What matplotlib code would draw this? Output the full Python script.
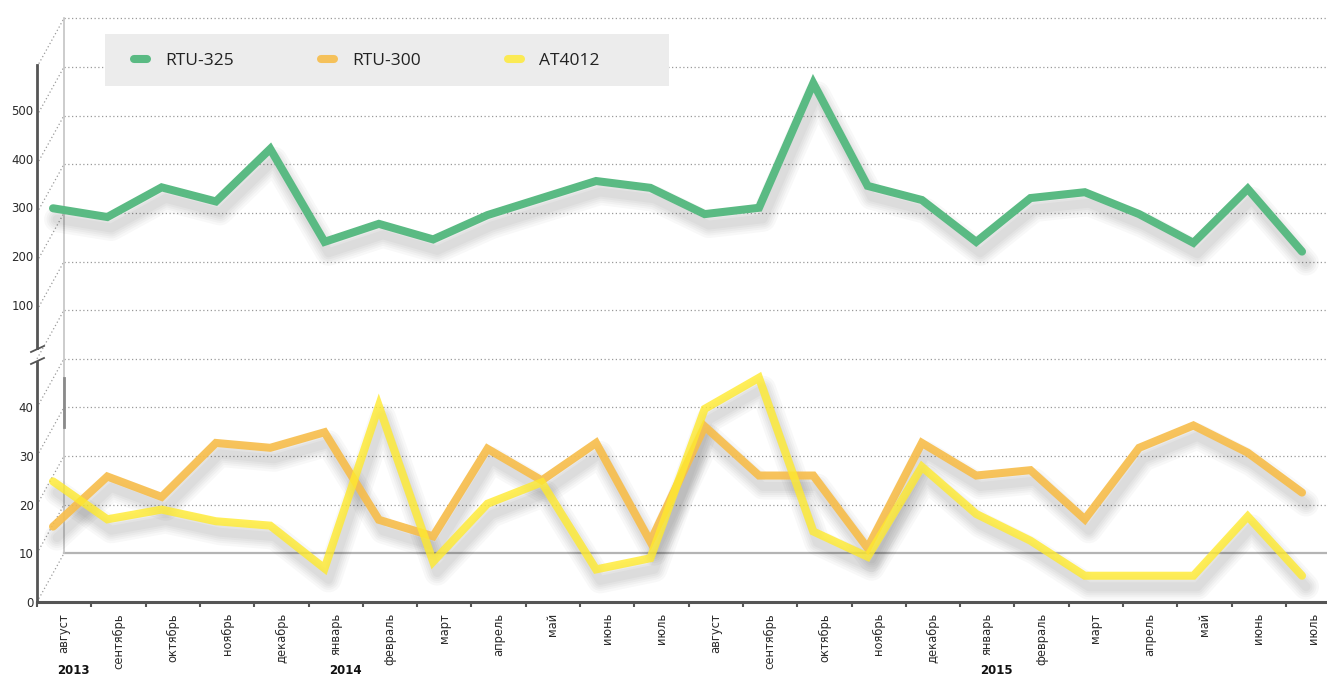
import matplotlib
matplotlib.use("Agg")
import matplotlib.pyplot as plt
import numpy as np
from matplotlib.lines import Line2D
from matplotlib.patches import Rectangle
from matplotlib.transforms import blended_transform_factory, offset_copy

# --- data -------------------------------------------------------------------
months = ["август", "сентябрь", "октябрь", "ноябрь", "декабрь", "январь",
          "февраль", "март", "апрель", "май", "июнь", "июль",
          "август", "сентябрь", "октябрь", "ноябрь", "декабрь", "январь",
          "февраль", "март", "апрель", "май", "июнь", "июль"]
years = ["2013", "2014", "2015"]
year_start = [0, 5, 17]  # index of the first month of each year

rtu_325 = [298, 280, 341, 312, 420, 229, 266, 234, 284, 319, 354, 340,
           286, 299, 555, 344, 315, 229, 319, 331, 286, 227, 338, 209]
rtu_300 = [15.5, 25.8, 21.6, 32.7, 31.7, 34.9, 16.9, 13.5, 31.5, 25.0, 32.7, 12.4,
           36.1, 26.0, 26.0, 11.1, 32.7, 26.0, 27.1, 17.0, 31.7, 36.3, 30.7, 22.5]
at4012 = [24.8, 17.0, 19.0, 16.6, 15.7, 6.9, 40.3, 8.3, 20.2, 24.6, 6.7, 9.0,
          39.7, 46.1, 14.5, 9.3, 27.8, 18.1, 12.6, 5.4, 5.4, 5.4, 17.6, 5.4]

upper_ticks = [100, 200, 300, 400, 500]
lower_ticks = [0, 10, 20, 30, 40]
wall_levels = np.arange(0, 120, 10)  # back-wall grid, in lower-panel units

GREEN, ORANGE, YELLOW = "#5aba83", "#f7bd4a", "#ffea2e"
AXIS_C = "#555555"

# --- layout (pixel boxes of a 1327x678 canvas) -------------------------------
W, H = 1327, 678
fig = plt.figure(figsize=(W / 100, H / 100), dpi=100)


def px_axes(left, top, right, bottom):
    return fig.add_axes([left / W, 1 - bottom / H, (right - left) / W, (bottom - top) / H])


ax_lo = px_axes(37, 362, W, 602)
ax_hi = px_axes(37, 65, W, 348)

XLIM = (-0.295, 23.46)
DEPTH_X, DEPTH_Y = 0.497, 10.0  # fake 3D depth, in lower-panel data units

for ax in (ax_lo, ax_hi):
    ax.set_facecolor("none")
    ax.set_xlim(*XLIM)
    for side in ("top", "right"):
        ax.spines[side].set_visible(False)
    ax.spines["left"].set_color(AXIS_C)
    ax.spines["left"].set_linewidth(2.0)
    ax.tick_params(axis="y", length=0, pad=2.5, labelsize=8.5, labelcolor="#2a2a2a")

ax_lo.set_ylim(0, 240 / 4.864)
ax_hi.set_ylim(10.9, 592.4)
ax_lo.set_yticks(lower_ticks)
ax_hi.set_yticks(upper_ticks)

ax_hi.spines["bottom"].set_visible(False)
ax_hi.set_xticks([])

# floor: boundary ticks + month labels in the middle of each bin
ax_lo.spines["bottom"].set_color(AXIS_C)
ax_lo.spines["bottom"].set_linewidth(2.2)
ax_lo.set_xticks(XLIM[0] + np.arange(len(months)))
ax_lo.set_xticklabels([])
ax_lo.set_xticks(XLIM[0] + 0.5 + np.arange(len(months)), minor=True)
ax_lo.set_xticklabels(months, minor=True, rotation=90, fontsize=8.3, color="#2a2a2a")
ax_lo.tick_params(axis="x", which="major", direction="out", length=3.6, width=1.5, color=AXIS_C)
ax_lo.tick_params(axis="x", which="minor", length=0, pad=8)

year_tr = blended_transform_factory(ax_lo.transData, fig.transFigure)
for label, start in zip(years, year_start):
    ax_lo.text(start + 0.08, 1 - 671 / H, label, transform=year_tr, ha="left", va="center",
               fontsize=8.5, fontweight="semibold", color="#111111")

# --- back wall, floor and depth diagonals ------------------------------------
dots = dict(ls=(0, (1, 2)), lw=0.9, color="#9a9a9a", clip_on=False, zorder=1)
x_back = XLIM[0] + DEPTH_X
for v in wall_levels:
    ax_lo.plot([XLIM[0], x_back], [v, v + DEPTH_Y], **dots)
    if v == 0:
        ax_lo.plot([x_back, XLIM[1]], [DEPTH_Y, DEPTH_Y], color="#b4b4b4", lw=1.6,
                   clip_on=False, zorder=1)
    else:
        ax_lo.plot([x_back, XLIM[1] + DEPTH_X], [v + DEPTH_Y] * 2, **dots)
ax_lo.plot([x_back, x_back], [DEPTH_Y, wall_levels[-1] + DEPTH_Y], color="#c4c4c4", lw=1.2,
           clip_on=False, zorder=1)
ax_lo.plot([x_back, x_back], [26 + DEPTH_Y, 36 + DEPTH_Y], color="#8a8a8a", lw=2,
           clip_on=False, zorder=1)

# axis break marks
for y0, y1 in ((364, 358), (352, 346)):
    fig.add_artist(Line2D([31 / W, 44 / W], [1 - y0 / H, 1 - y1 / H], color=AXIS_C, lw=1.3))

# --- series with soft drop shadows ------------------------------------------
x = np.arange(len(months))


def shadowed(ax, y, color, alpha):
    shadow_tr = offset_copy(ax.transData, fig, x=4, y=-11, units="dots")
    for lw in (26, 21, 17, 13, 9):
        ax.plot(x, y, color="black", alpha=0.028, lw=lw * 0.72, transform=shadow_tr,
                solid_capstyle="round", solid_joinstyle="round", clip_on=False, zorder=2)
    line, = ax.plot(x, y, color=color, alpha=alpha, lw=5.8, solid_capstyle="round",
                    solid_joinstyle="miter", clip_on=False, zorder=3)
    return line


l_325 = shadowed(ax_hi, rtu_325, GREEN, 1.0)
l_300 = shadowed(ax_lo, rtu_300, ORANGE, 0.9)
l_at = shadowed(ax_lo, at4012, YELLOW, 0.8)

# --- legend box --------------------------------------------------------------
fig.patches.append(Rectangle((105 / W, 1 - 86 / H), 564 / W, 52 / H, transform=fig.transFigure,
                             facecolor="#ececec", edgecolor="none", zorder=0))
fig.legend([l_325, l_300, l_at], ["RTU-325", "RTU-300", "AT4012"],
           loc="center left", bbox_to_anchor=(134 / W, 1 - 61 / H), bbox_transform=fig.transFigure,
           ncol=3, frameon=False, borderpad=0, borderaxespad=0,
           handlelength=0.76, handletextpad=1.05, columnspacing=5.0,
           prop=dict(family="Open Sans", size=12.5), labelcolor="#222222")

fig.savefig("out.png", dpi=100)
